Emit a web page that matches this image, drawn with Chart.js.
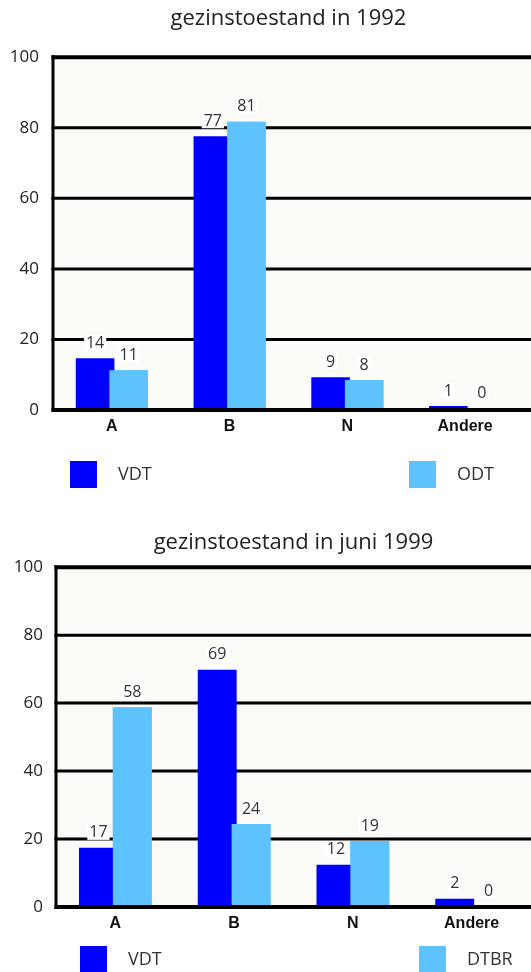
<!DOCTYPE html>
<html>
<head>
<meta charset="utf-8">
<script src="https://cdn.jsdelivr.net/npm/chart.js@4.4.1/dist/chart.umd.min.js"></script>
<style>
  html, body { margin: 0; padding: 0; background: #fff; }
  body { width: 531px; height: 972px; position: relative; overflow: hidden; }
  canvas { position: absolute; left: 0; }
  #chart1 { top: 0; }
  #chart2 { top: 510px; }
</style>
</head>
<body>
<canvas id="chart1" width="531" height="500"></canvas>
<canvas id="chart2" width="531" height="462"></canvas>
<script>
// Categorieën en assen
const categorieen = ['A', 'B', 'N', 'Andere'];
const yTicks = [0, 20, 40, 60, 80, 100];

// gezinstoestand 1992 (staafhoogtes en afgedrukte getallen)
const vdt1992 = [14.7, 77.6, 9.3, 1.1];
const odt1992 = [11.3, 81.7, 8.5, 0.4];
const vdt1992Labels = [14, 77, 9, 1];
const odt1992Labels = [11, 81, 8, 0];

// gezinstoestand juni 1999
const vdt1999 = [17.4, 69.8, 12.4, 2.4];
const dtbr1999 = [58.8, 24.4, 19.4, 0.3];
const vdt1999Labels = [17, 69, 12, 2];
const dtbr1999Labels = [58, 24, 19, 0];

const DONKER = '#0000ff';
const LICHT = '#5ec2ff';
const FONT = "'Open Sans', 'DejaVu Sans', sans-serif";

// Kader, rasterlijnen, getallen boven de staven en legende
const kader = {
    id: 'kader',
    beforeDatasetsDraw(chart) {
        const { ctx, chartArea: a, scales: { y } } = chart;
        const right = chart.width;
        ctx.save();
        ctx.fillStyle = '#fbfcf8';
        ctx.fillRect(a.left, a.top, right - a.left, a.bottom - a.top);
        ctx.strokeStyle = '#000';
        y.ticks.forEach(t => {
            if (t.value === 0) return;
            const py = y.getPixelForValue(t.value);
            ctx.lineWidth = t.value === 100 ? 4 : 3;
            ctx.beginPath();
            ctx.moveTo(a.left - 1.5, py);
            ctx.lineTo(right, py);
            ctx.stroke();
        });
        ctx.lineWidth = 3;
        ctx.beginPath();
        ctx.moveTo(a.left, a.top - 2);
        ctx.lineTo(a.left, a.bottom + 2);
        ctx.stroke();
        ctx.restore();
    },
    afterDatasetsDraw(chart, args, opts) {
        const { ctx, chartArea: a, scales: { y } } = chart;
        // lichte reeks over de donkere leggen
        chart.getDatasetMeta(1).controller.draw();

        ctx.save();
        // x-as
        const py0 = y.getPixelForValue(0);
        ctx.strokeStyle = '#000';
        ctx.lineWidth = 4;
        ctx.beginPath();
        ctx.moveTo(a.left - 1.5, py0);
        ctx.lineTo(chart.width, py0);
        ctx.stroke();

        // getallen
        ctx.font = '16px ' + FONT;
        ctx.textAlign = 'center';
        ctx.textBaseline = 'middle';
        chart.data.datasets.forEach((ds, i) => {
            chart.getDatasetMeta(i).data.forEach((bar, j) => {
                const txt = String(ds.waarden[j]);
                const w = ctx.measureText(txt).width + 4;
                const ty = bar.y - 15;
                ctx.fillStyle = '#fff';
                ctx.fillRect(bar.x - w / 2, ty - 8, w, 15);
                ctx.fillStyle = '#333';
                ctx.fillText(txt, bar.x, ty);
            });
        });

        // legende
        ctx.font = '18px ' + FONT;
        ctx.textAlign = 'left';
        opts.legende.forEach((item, i) => {
            ctx.fillStyle = chart.data.datasets[i].backgroundColor;
            ctx.fillRect(item.x, item.y, 27, 27);
            ctx.fillStyle = '#333';
            ctx.fillText(chart.data.datasets[i].label, item.x + 48, item.y + 14);
        });
        ctx.restore();
    }
};

function maakGrafiek(id, titel, reeksen, opmaak) {
    return new Chart(document.getElementById(id), {
        type: 'bar',
        data: {
            labels: categorieen,
            datasets: reeksen.map(r => ({
                label: r.naam,
                data: r.data,
                waarden: r.waarden,
                backgroundColor: r.kleur,
                borderWidth: 0,
                barPercentage: 1.15,
                categoryPercentage: 0.57
            }))
        },
        options: {
            responsive: false,
            animation: false,
            layout: { padding: { left: 0, right: opmaak.rechts, top: 0, bottom: 0 } },
            plugins: {
                legend: { display: false },
                tooltip: { enabled: false },
                title: {
                    display: true,
                    fullSize: false,
                    text: titel,
                    color: '#222',
                    font: { family: FONT, size: 22, weight: 'normal', lineHeight: 1.1 },
                    padding: { top: opmaak.titelBoven, bottom: opmaak.titelOnder }
                },
                kader: { legende: opmaak.legende }
            },
            scales: {
                x: {
                    grid: { display: false, drawTicks: false },
                    border: { display: false },
                    ticks: {
                        color: '#111',
                        padding: opmaak.xPadding,
                        font: { family: "'Liberation Sans', Arial, sans-serif", size: 16, weight: 'bold' }
                    },
                    afterFit: s => { s.height = opmaak.xHoogte; }
                },
                y: {
                    min: 0,
                    max: 100,
                    grid: { display: false, drawTicks: false },
                    border: { display: false },
                    afterBuildTicks: s => { s.ticks = yTicks.map(v => ({ value: v })); },
                    ticks: {
                        color: '#222',
                        padding: opmaak.yPadding,
                        font: { family: FONT, size: 17 }
                    },
                    afterFit: s => { s.width = opmaak.links; }
                }
            }
        },
        plugins: [kader]
    });
}

maakGrafiek('chart1', 'gezinstoestand in 1992', [
    { naam: 'VDT', data: vdt1992, waarden: vdt1992Labels, kleur: DONKER },
    { naam: 'ODT', data: odt1992, waarden: odt1992Labels, kleur: LICHT }
], {
    links: 53, rechts: 7, titelBoven: 7, titelOnder: 26, xHoogte: 90, xPadding: 7, yPadding: 14,
    legende: [{ x: 70, y: 461 }, { x: 409, y: 461 }]
});

maakGrafiek('chart2', 'gezinstoestand in juni 1999', [
    { naam: 'VDT', data: vdt1999, waarden: vdt1999Labels, kleur: DONKER },
    { naam: 'DTBR', data: dtbr1999, waarden: dtbr1999Labels, kleur: LICHT }
], {
    links: 56, rechts: 0, titelBoven: 21, titelOnder: 12, xHoogte: 65, xPadding: 7, yPadding: 13,
    legende: [{ x: 80, y: 436 }, { x: 419, y: 436 }]
});
</script>
</body>
</html>
